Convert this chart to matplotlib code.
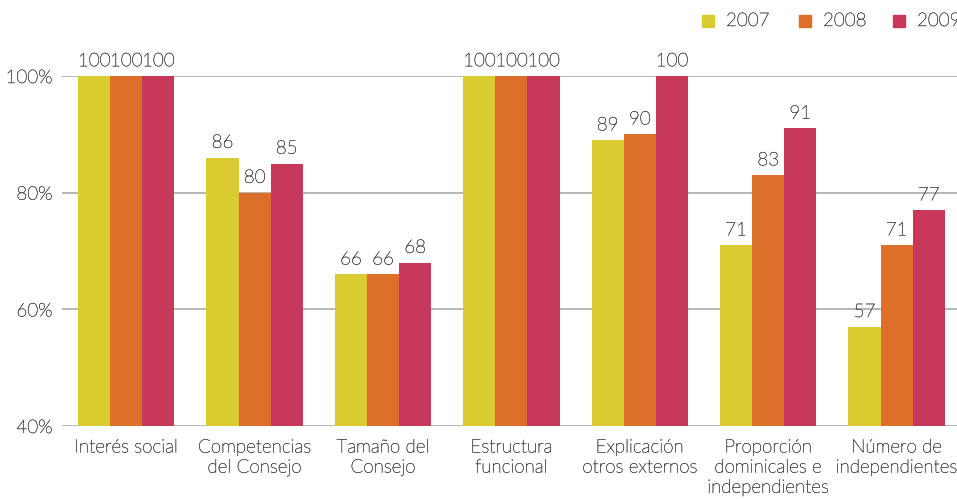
import matplotlib
matplotlib.use("Agg")
import matplotlib.pyplot as plt
import matplotlib.patheffects as pe
import numpy as np
from matplotlib.patches import Rectangle

categories = ["Interés social", "Competencias\ndel Consejo", "Tamaño del\nConsejo",
              "Estructura\nfuncional", "Explicación\notros externos",
              "Proporción\ndominicales e\nindependientes", "Número de\nindependientes"]
years = ["2007", "2008", "2009"]
v2007 = [100, 86, 66, 100, 89, 71, 57]
v2008 = [100, 80, 66, 100, 90, 83, 71]
v2009 = [100, 85, 68, 100, 100, 91, 77]
yticks = [40, 60, 80, 100]
ytick_labels = ["40%", "60%", "80%", "100%"]

colors = ["#DACB30", "#DC702B", "#C8385B"]
text_color = "#505050"
grid_color = "#aaaaaa"
font = "Lato"
fw = "light"
fs = 13.5
thicken = [pe.withStroke(linewidth=0.3, foreground=text_color)]

fig = plt.figure(figsize=(9.57, 4.99), dpi=100)
ax = fig.add_axes([62 / 957, 1 - 426 / 499, 1 - 62 / 957, 350 / 499])

x = np.arange(len(categories))
w = 0.25
for i, (vals, c) in enumerate(zip([v2007, v2008, v2009], colors)):
    pos = x + (i - 1) * w
    ax.bar(pos, np.array(vals) - 40, width=w, bottom=40, color=c, zorder=3)
    for p, v in zip(pos, vals):
        ax.text(p, v + 1.0, f"{v}", ha="center", va="bottom", fontsize=fs,
                color=text_color, family=font, fontweight=fw, zorder=4,
                path_effects=thicken)

ax.set_ylim(40, 100)
ax.set_xlim(-0.5, 6.47)
ax.set_yticks(yticks)
ax.set_yticklabels(ytick_labels, family=font, fontweight=fw, fontsize=fs, color=text_color)
ax.set_xticks(x)
ax.set_xticklabels(categories, family=font, fontweight=fw, fontsize=fs, color=text_color,
                   linespacing=1.15)
for lbl in ax.get_xticklabels() + ax.get_yticklabels():
    lbl.set_path_effects(thicken)
ax.tick_params(length=0, axis="both")
ax.tick_params(axis="x", pad=9)
ax.tick_params(axis="y", pad=7)
for s in ax.spines.values():
    s.set_visible(False)
ax.yaxis.grid(True, color=grid_color, linewidth=1.2, zorder=0)
ax.set_axisbelow(True)

# legend drawn as colour squares with year labels along the top
sq_x = [702, 799, 893]
for xs, c, yr in zip(sq_x, colors, years):
    fig.patches.append(Rectangle((xs / 957, 1 - 27 / 499), 12 / 957, 12 / 499,
                                 transform=fig.transFigure, color=c))
    fig.text((xs + 24) / 957, 1 - 21 / 499, yr, ha="left", va="center", fontsize=fs,
             family=font, fontweight=fw, color=text_color, path_effects=thicken)

fig.savefig("out.png", dpi=100)
